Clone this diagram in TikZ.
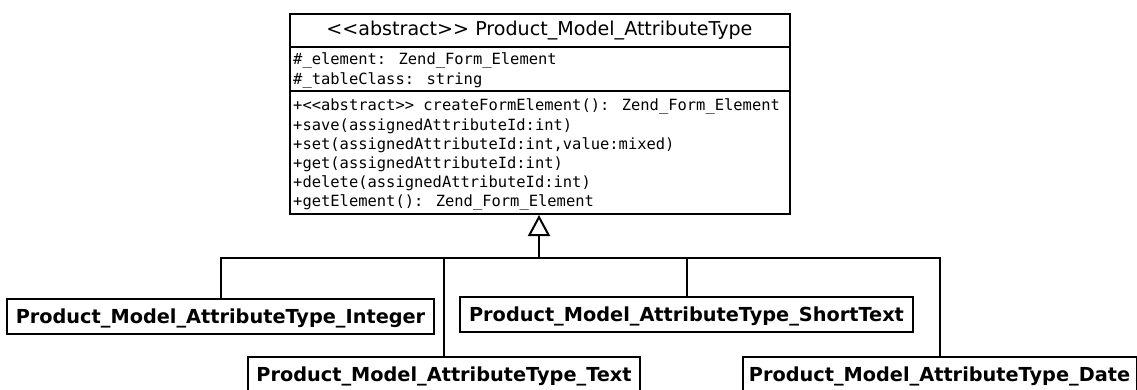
\documentclass[tikz,border=0pt]{standalone}
\usepackage{fontspec}
\setmainfont{DejaVu Sans}
\newfontfamily\monof{DejaVu Sans Mono}
\usetikzlibrary{arrows.meta}
\begin{document}
\begin{tikzpicture}[x=1pt,y=-1pt,
  ln/.style={line width=2pt, line join=miter},
  cls/.style={draw, ln, inner sep=0pt, minimum height=200pt, minimum width=500pt},
  sub/.style={draw, ln, inner sep=0pt, minimum height=35pt, text height=16pt, text depth=2pt,
    font=\bfseries\fontsize{19.3}{23}\selectfont},
  titlef/.style={inner sep=0pt, anchor=base, font=\fontsize{19.1}{23}\selectfont},
  mono/.style={inner sep=0pt, anchor=base west, font=\monof\fontsize{15.45}{19}\selectfont},
  gen/.style={ln, -{Triangle[open, length=21pt, width=22pt, line width=2pt]}}
]
\useasboundingbox[fill=white] (0,0) rectangle (1137,390);

% abstract class
\node[cls, anchor=north west] (base) at (289,13) {};
\draw[ln] ([yshift=-34pt]base.north west) -- ([yshift=-34pt]base.north east);
\draw[ln] ([yshift=-78pt]base.north west) -- ([yshift=-78pt]base.north east);
\node[titlef] (title) at (539.4,36) {<\kern0pt<abstract>\kern0pt> Product\_Model\_AttributeType};

\node[mono] (a1) at (293,65) {\#\_element: Zend\_Form\_Element};
\node[mono] (a2) at (293,84.5) {\#\_tableClass: string};

\node[mono] (m1) at (293,111) {+<\kern0pt<abstract>\kern0pt> createFormElement(): Zend\_Form\_Element};
\node[mono] (m2) at (293,130.2) {+save(assignedAttributeId:int)};
\node[mono] (m3) at (293,149.4) {+set(assignedAttributeId:int,value:mixed)};
\node[mono] (m4) at (293,168.6) {+get(assignedAttributeId:int)};
\node[mono] (m5) at (293,187.8) {+delete(assignedAttributeId:int)};
\node[mono] (m6) at (293,207) {+getElement(): Zend\_Form\_Element};

% subclasses
\node[sub, minimum width=427pt] (int) at (220.5,316.5) {Product\_Model\_AttributeType\_Integer};
\node[sub, minimum width=453pt] (short) at (686.5,314.5) {Product\_Model\_AttributeType\_ShortText};
\node[sub, minimum width=392pt] (text) at (444,374.5) {Product\_Model\_AttributeType\_Text};
\node[sub, minimum width=394pt] (date) at (939.5,374.5) {Product\_Model\_AttributeType\_Date};

% generalisation tree
\coordinate (j) at (539,258);
\draw[gen] (j) -- (j |- base.south);
\draw[ln] (int.north) -- (int.north |- j) -- (date.north |- j) -- (date.north);
\draw[ln] (text.north) -- (text.north |- j);
\draw[ln] (short.north) -- (short.north |- j);
\end{tikzpicture}
\end{document}
